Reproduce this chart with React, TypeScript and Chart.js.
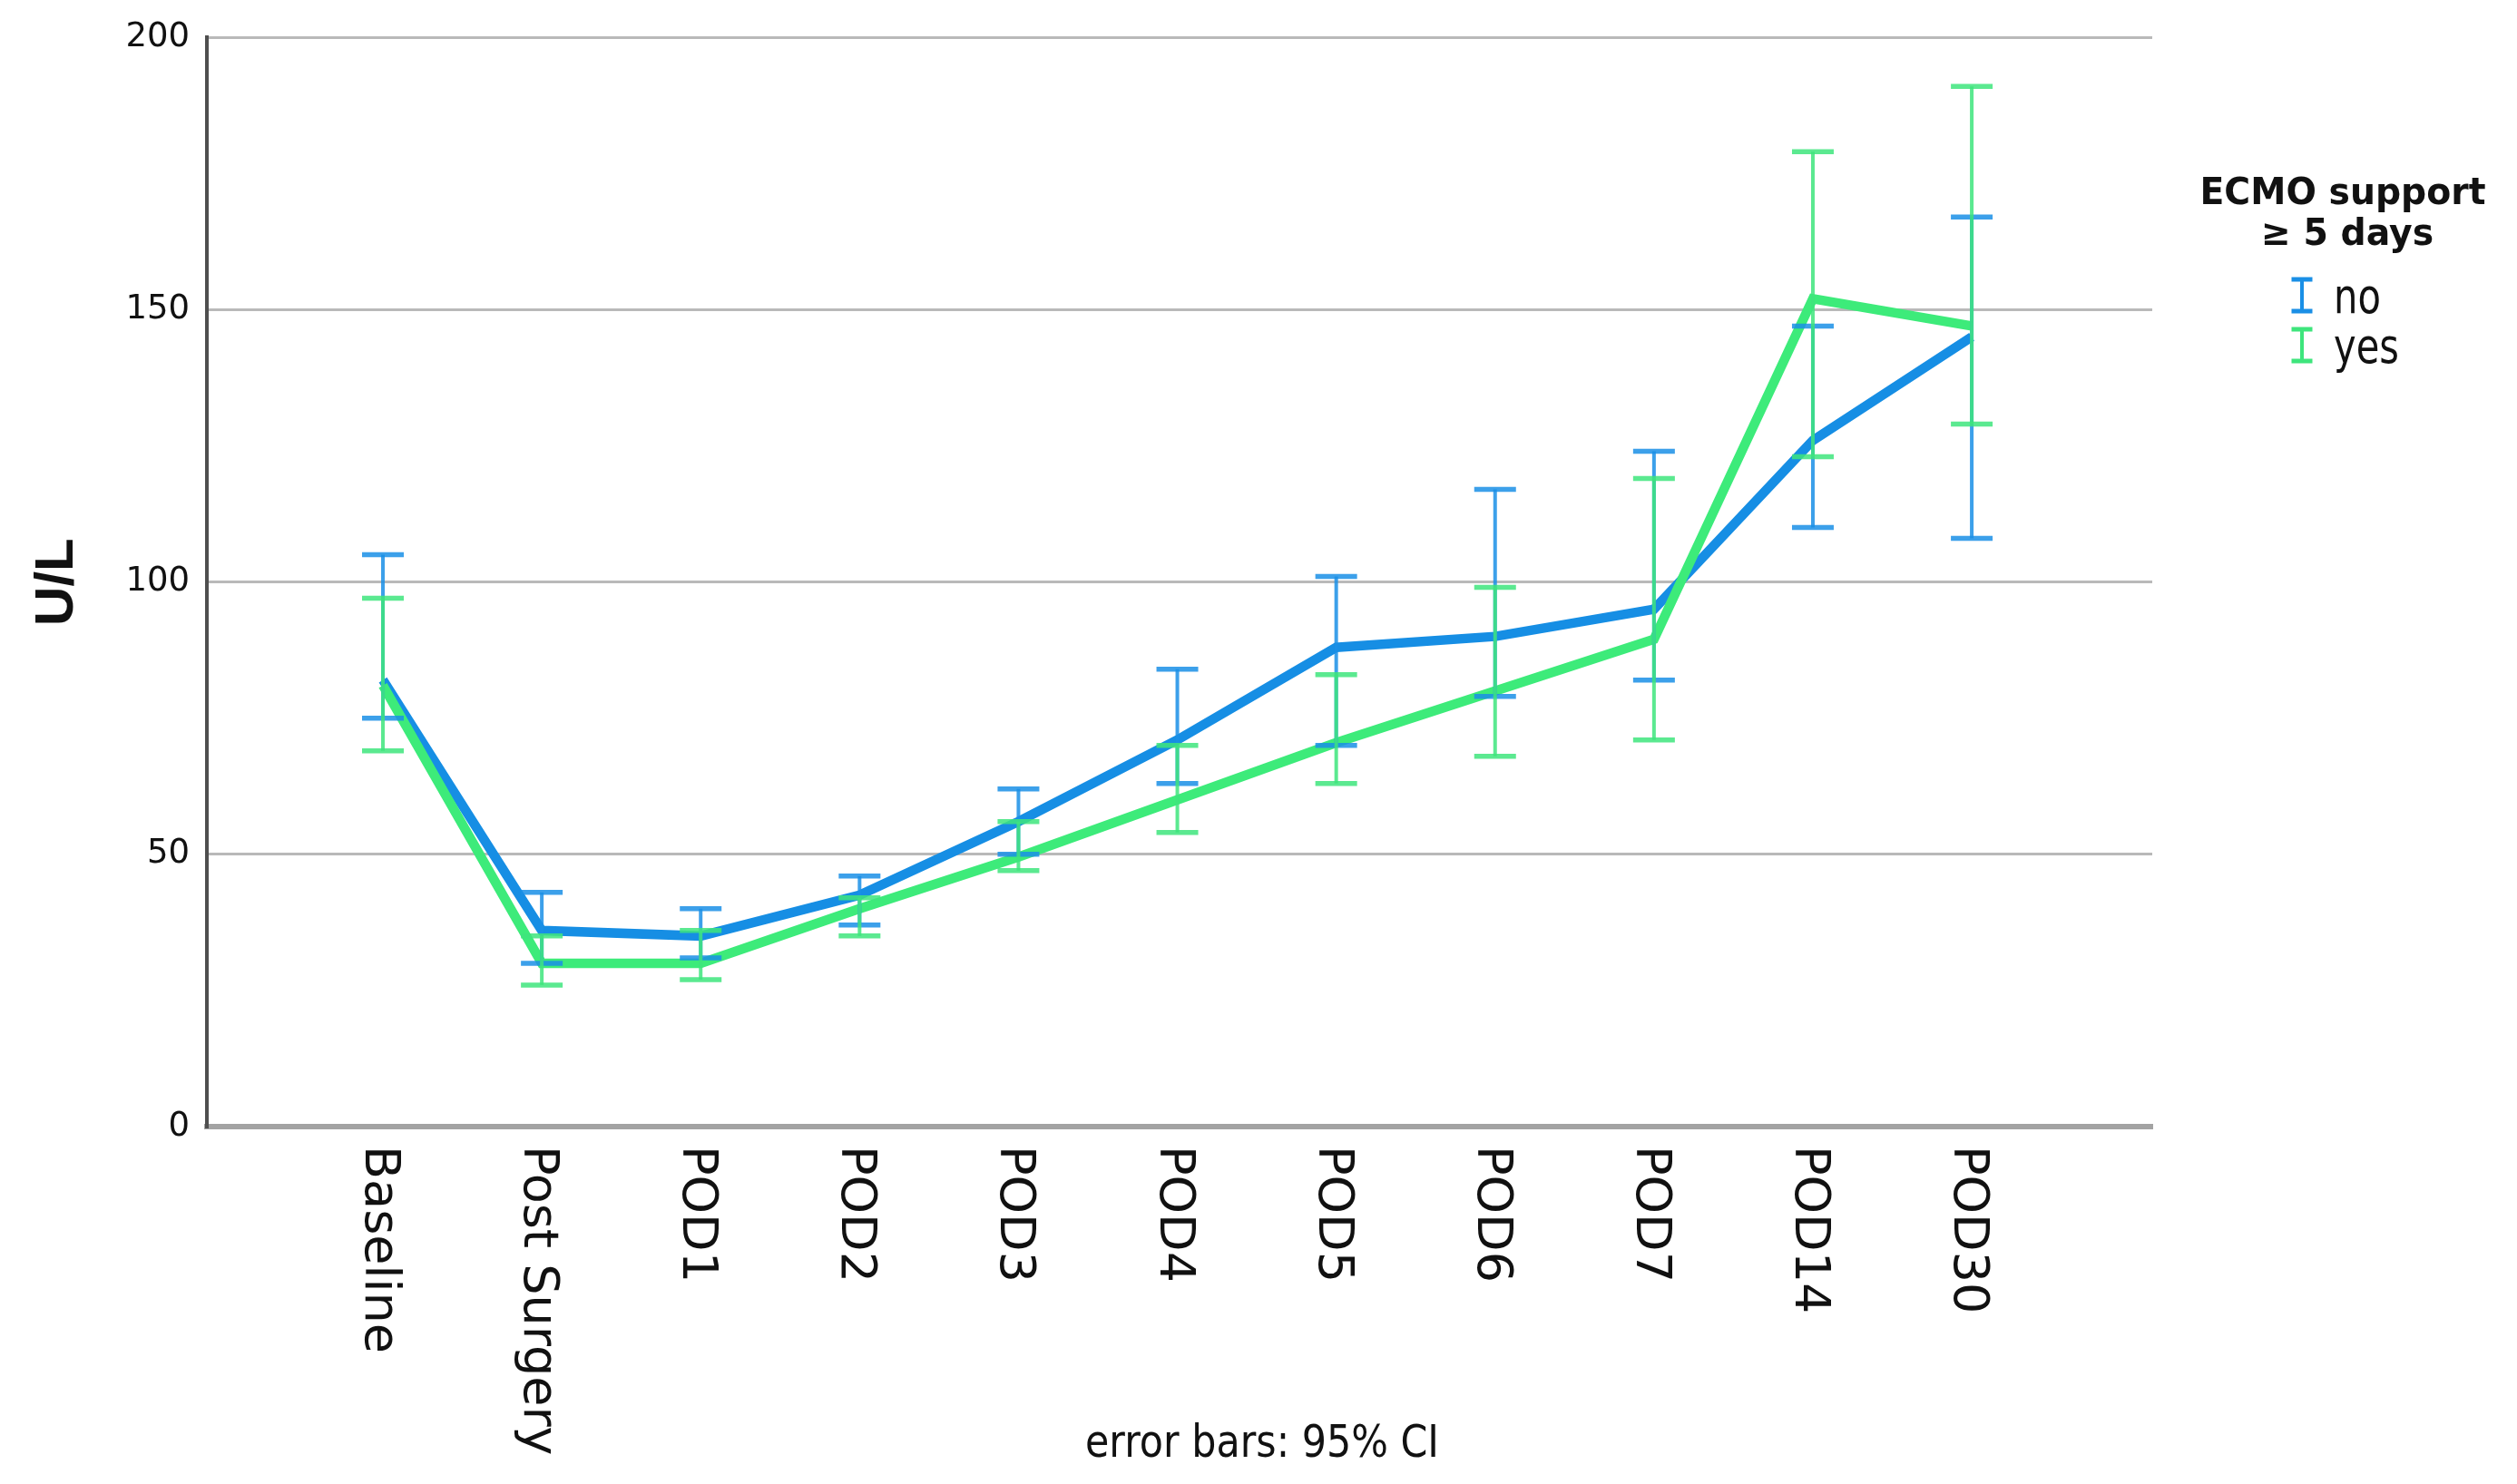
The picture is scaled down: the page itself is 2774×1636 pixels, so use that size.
import React, { useEffect, useRef } from "react";
import { Chart, registerables } from "chart.js";

Chart.register(...registerables);

const categories = ["Baseline", "Post Surgery", "POD1", "POD2", "POD3", "POD4", "POD5", "POD6", "POD7", "POD14", "POD30"];

// ECMO support >= 5 days: no
const noMean = [82, 36, 35, 42.5, 56, 71, 88, 90, 95, 126, 145];
const noLow = [75, 30, 31, 37, 50, 63, 70, 79, 82, 110, 108];
const noHigh = [105, 43, 40, 46, 62, 84, 101, 117, 124, 147, 167];

// ECMO support >= 5 days: yes
const yesMean = [81, 30, 30, 40, 49.5, 60, 70.5, 80, 89.5, 152, 147];
const yesLow = [69, 26, 27, 35, 47, 54, 63, 68, 71, 123, 129];
const yesHigh = [97, 35, 36, 42, 56, 70, 83, 99, 119, 179, 191];

const yTicks = [0, 50, 100, 150, 200];
const legendTitle = ["ECMO support", "\u2265 5 days"];
const legendLabels = ["no", "yes"];
const yTitle = "U/L";
const footnote = "error bars: 95% CI";

const BLUE = "#168ee4";
const GREEN = "#3deb7a";
const BLUE_BAR = "#1a8fe6";
const GREEN_BAR = "#3ee57c";

const W = 2774;
const H = 1636;

function drawText(
  ctx: CanvasRenderingContext2D,
  text: string,
  x: number,
  y: number,
  font: string,
  align: CanvasTextAlign,
  sx: number,
  rot = 0,
  baseline: CanvasTextBaseline = "alphabetic"
) {
  ctx.save();
  ctx.font = font;
  ctx.fillStyle = "#111";
  ctx.textAlign = align;
  ctx.textBaseline = baseline;
  ctx.translate(x, y);
  if (rot) ctx.rotate(rot);
  ctx.scale(sx, 1);
  ctx.fillText(text, 0, 0);
  ctx.restore();
}

function fitScale(ctx: CanvasRenderingContext2D, text: string, font: string, target: number) {
  ctx.save();
  ctx.font = font;
  const w = ctx.measureText(text).width;
  ctx.restore();
  return w > 0 ? target / w : 1;
}

const errorBarPlugin = {
  id: "errorBars",
  afterDatasetsDraw(chart: any) {
    const ctx: CanvasRenderingContext2D = chart.ctx;
    const xs = chart.scales.x;
    const ys = chart.scales.y;
    const series = [
      { lo: noLow, hi: noHigh, color: BLUE_BAR },
      { lo: yesLow, hi: yesHigh, color: GREEN_BAR },
    ];
    ctx.save();
    ctx.globalAlpha = 0.85;
    series.forEach((s) => {
      ctx.strokeStyle = s.color;
      for (let i = 0; i < categories.length; i++) {
        const x = xs.getPixelForValue(i);
        const yl = ys.getPixelForValue(s.lo[i]);
        const yh = ys.getPixelForValue(s.hi[i]);
        ctx.lineWidth = 4;
        ctx.beginPath();
        ctx.moveTo(x, yl);
        ctx.lineTo(x, yh);
        ctx.stroke();
        ctx.lineWidth = 5.5;
        ctx.beginPath();
        ctx.moveTo(x - 23, yl);
        ctx.lineTo(x + 23, yl);
        ctx.moveTo(x - 23, yh);
        ctx.lineTo(x + 23, yh);
        ctx.stroke();
      }
    });
    ctx.restore();
  },
};

const textPlugin = {
  id: "texts",
  afterDraw(chart: any) {
    const ctx: CanvasRenderingContext2D = chart.ctx;
    const xs = chart.scales.x;
    const area = chart.chartArea;

    // x tick labels, rotated clockwise, reading top to bottom
    const xFont = "54px 'DejaVu Sans'";
    categories.forEach((c, i) => {
      const x = xs.getPixelForValue(i) - 5;
      drawText(ctx, c, x, area.bottom + 21, xFont, "left", 1, Math.PI / 2, "middle");
    });

    // y axis title
    drawText(ctx, yTitle, 80, (area.top + area.bottom) / 2, "bold 60px 'Liberation Sans'", "center", 1, -Math.PI / 2);

    // footnote
    const fnFont = "50px 'DejaVu Sans'";
    drawText(ctx, footnote, 1391, 1606, fnFont, "center", fitScale(ctx, footnote, fnFont, 390));

    // legend title
    const tFont = "bold 41px 'DejaVu Sans'";
    const tsx = fitScale(ctx, legendTitle[0], tFont, 315);
    drawText(ctx, legendTitle[0], 2582, 225, tFont, "center", tsx);
    drawText(ctx, legendTitle[1], 2587, 270, tFont, "center", tsx);

    // legend items
    const iFont = "53px 'DejaVu Sans'";
    const isx = fitScale(ctx, legendLabels[1], iFont, 72);
    const colors = [BLUE_BAR, GREEN_BAR];
    const baselines = [345, 400];
    legendLabels.forEach((lab, k) => {
      const b = baselines[k];
      const top = b - 37;
      const bot = b - 2;
      const mx = 2537;
      ctx.save();
      ctx.strokeStyle = colors[k];
      ctx.lineWidth = 4;
      ctx.beginPath();
      ctx.moveTo(mx, top);
      ctx.lineTo(mx, bot);
      ctx.stroke();
      ctx.lineWidth = 5;
      ctx.beginPath();
      ctx.moveTo(mx - 11.5, top);
      ctx.lineTo(mx + 11.5, top);
      ctx.moveTo(mx - 11.5, bot);
      ctx.lineTo(mx + 11.5, bot);
      ctx.stroke();
      ctx.restore();
      drawText(ctx, lab, 2572, b, iFont, "left", isx);
    });
  },
};

export default function App() {
  const ref = useRef<HTMLCanvasElement | null>(null);

  useEffect(() => {
    if (!ref.current) return;
    const chart = new Chart(ref.current, {
      type: "line",
      data: {
        datasets: [
          {
            label: legendLabels[0],
            data: categories.map((_, i) => ({ x: i, y: noMean[i] })),
            borderColor: BLUE,
            backgroundColor: BLUE,
            borderWidth: 10.5,
            pointRadius: 0,
            tension: 0,
            order: 2,
          },
          {
            label: legendLabels[1],
            data: categories.map((_, i) => ({ x: i, y: yesMean[i] })),
            borderColor: GREEN,
            backgroundColor: GREEN,
            borderWidth: 10.5,
            pointRadius: 0,
            tension: 0,
            order: 1,
          },
        ],
      },
      options: {
        animation: false,
        responsive: false,
        devicePixelRatio: 1,
        layout: { padding: { left: 0, top: 39, right: W - 2372, bottom: 0 } },
        plugins: { legend: { display: false }, tooltip: { enabled: false }, title: { display: false } },
        scales: {
          x: {
            type: "linear",
            min: -1.108,
            max: 11.136,
            grid: { display: false },
            border: { display: true, color: "#a3a3a3", width: 6 },
            ticks: { display: false },
            afterFit: (s: any) => {
              s.height = H - 1242;
            },
          },
          y: {
            type: "linear",
            min: 0,
            max: 200,
            afterBuildTicks: (s: any) => {
              s.ticks = yTicks.map((v) => ({ value: v }));
            },
            ticks: {
              padding: 19,
              color: "#111",
              font: { family: "'DejaVu Sans'", size: 37 },
            },
            grid: { color: "#b9b9b9", lineWidth: 3, drawTicks: false },
            border: { color: "#4f4f4f", width: 4 },
            afterFit: (s: any) => {
              s.width = 228;
            },
          },
        },
      },
      plugins: [errorBarPlugin, textPlugin],
    });
    return () => chart.destroy();
  }, []);

  return (
    <div style={{ position: "fixed", left: 0, top: 0, width: W, height: H, background: "#fff" }}>
      <canvas ref={ref} width={W} height={H} style={{ display: "block", width: W, height: H }} />
    </div>
  );
}
